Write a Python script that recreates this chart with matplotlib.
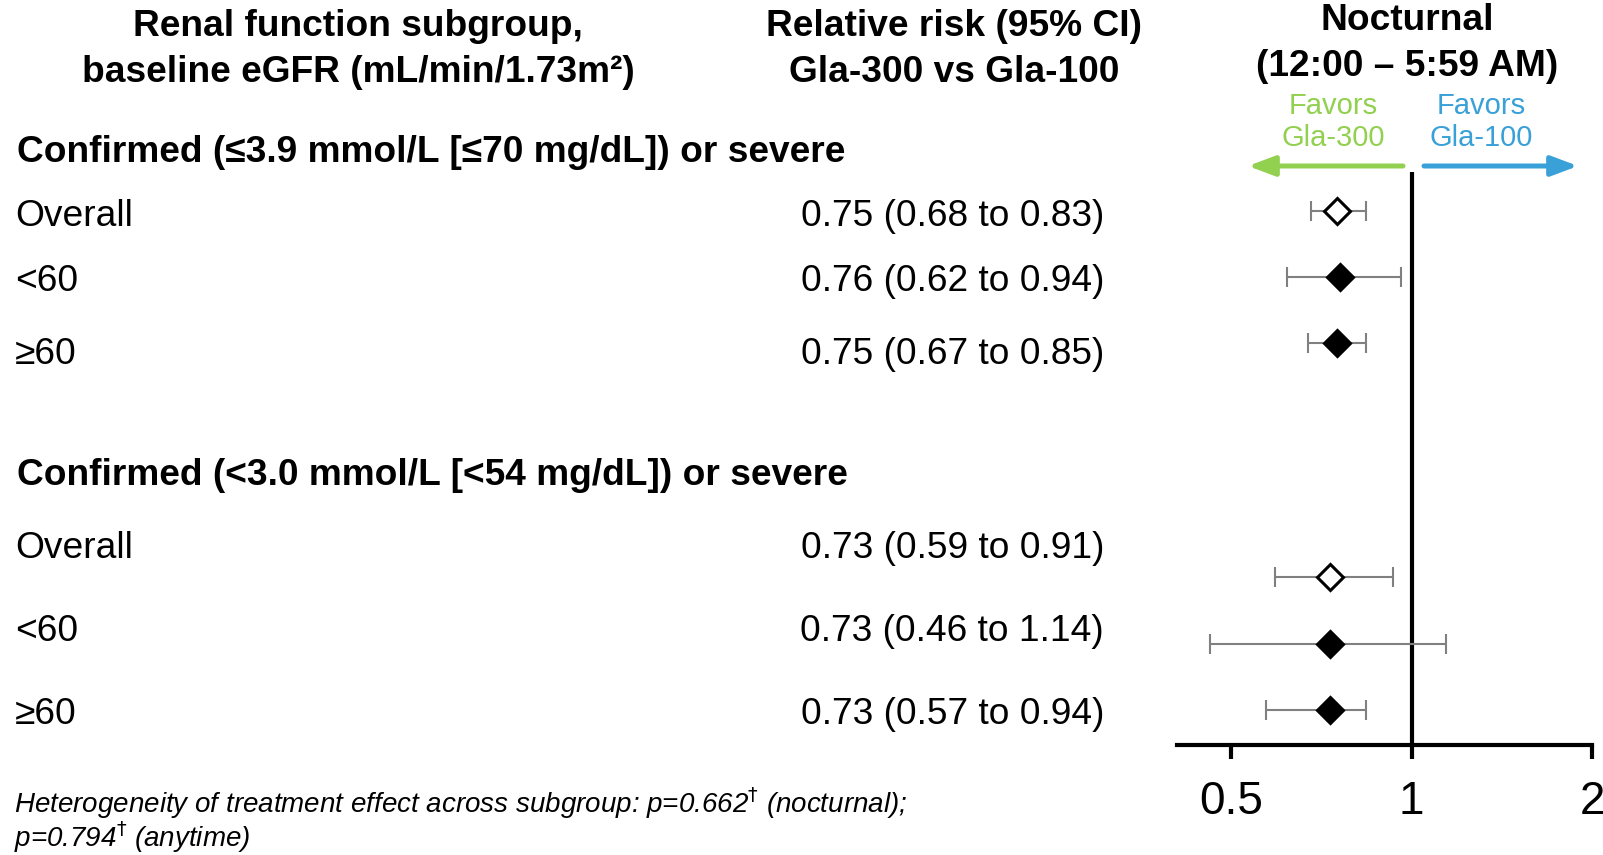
import matplotlib
matplotlib.use("Agg")
import matplotlib.pyplot as plt
from matplotlib.patches import FancyArrowPatch
from matplotlib.ticker import NullLocator

plt.rcParams['font.family'] = ['Liberation Sans', 'DejaVu Sans']

# data
groups = ["Confirmed (≤3.9 mmol/L [≤70 mg/dL]) or severe",
          "Confirmed (<3.0 mmol/L [<54 mg/dL]) or severe"]
subgroups = ["Overall", "<60", "≥60"]
rr_labels = [["0.75 (0.68 to 0.83)", "0.76 (0.62 to 0.94)", "0.75 (0.67 to 0.85)"],
             ["0.73 (0.59 to 0.91)", "0.73 (0.46 to 1.14)", "0.73 (0.57 to 0.94)"]]
# points as drawn in the forest panel
est = [[0.75, 0.76, 0.75], [0.73, 0.73, 0.73]]
ci_lo = [[0.68, 0.62, 0.67], [0.59, 0.46, 0.57]]
ci_hi = [[0.84, 0.96, 0.84], [0.93, 1.14, 0.84]]
xticks = [0.5, 1, 2]
xticklabels = ["0.5", "1", "2"]

# layout, in pixels from the top-left corner
W, H = 1603, 855
head_rows = [153, 475]
text_rows = [[217, 281, 354], [548, 631, 714]]
mark_rows = [[211, 277, 343], [577, 644, 710]]

green = "#92D050"
blue = "#39A0D8"
FS = 26.7


def fx(x):
    return x / W


def fy(y):
    return 1 - y / H


fig = plt.figure(figsize=(W / 100, H / 100), dpi=100)

# forest panel
ax = fig.add_axes([fx(1176.7), fy(745), (1592 - 1176.7) / W, (745 - 172) / H])
ax.set_xscale("log")
ax.set_xlim(0.405, 2.0)
ax.set_ylim(745, 172)
for s in ["top", "left", "right"]:
    ax.spines[s].set_visible(False)
ax.spines["bottom"].set_linewidth(3)
ax.set_xticks(xticks)
ax.set_xticklabels(xticklabels)
ax.xaxis.set_minor_locator(NullLocator())
ax.tick_params(axis="x", length=10, width=3, labelsize=33, pad=15)
ax.set_yticks([])
ax.axvline(1, color="black", lw=3, zorder=1)

for g in range(2):
    for i in range(3):
        e, lo, hi, y = est[g][i], ci_lo[g][i], ci_hi[g][i], mark_rows[g][i]
        ax.errorbar(e, y, xerr=[[e - lo], [hi - e]], fmt="none", ecolor="#808080",
                    elinewidth=1.5, capsize=7, capthick=1.5, zorder=2)
        ax.plot(e, y, marker="D", ms=13, mfc="white" if i == 0 else "black",
                mec="black", mew=2.2, zorder=3)

# column headers
fig.text(fx(358), fy(26), "Renal function subgroup,", ha="center", va="center",
         fontsize=FS, fontweight="bold")
fig.text(fx(358), fy(72), "baseline eGFR (mL/min/1.73m²)", ha="center", va="center",
         fontsize=FS, fontweight="bold")
fig.text(fx(954), fy(26), "Relative risk (95% CI)", ha="center", va="center",
         fontsize=FS, fontweight="bold")
fig.text(fx(954), fy(72), "Gla-300 vs Gla-100", ha="center", va="center",
         fontsize=FS, fontweight="bold")
fig.text(fx(1407), fy(21), "Nocturnal", ha="center", va="center",
         fontsize=FS, fontweight="bold")
fig.text(fx(1407), fy(67), "(12:00 – 5:59 AM)", ha="center", va="center",
         fontsize=FS, fontweight="bold")

# favors labels and arrows
fig.text(fx(1333), fy(122), "Favors\nGla-300", ha="center", va="center",
         fontsize=21, color=green, linespacing=1.2)
fig.text(fx(1481), fy(122), "Favors\nGla-100", ha="center", va="center",
         fontsize=21, color=blue, linespacing=1.2)
for x0, x1, c in [(1403, 1248, green), (1424, 1578, blue)]:
    fig.add_artist(FancyArrowPatch((fx(x0), fy(166)), (fx(x1), fy(166)),
                                   transform=fig.transFigure,
                                   arrowstyle="-|>,head_length=16,head_width=6",
                                   mutation_scale=1, lw=3.6, color=c,
                                   shrinkA=0, shrinkB=0))

# table rows
for g in range(2):
    fig.text(fx(17), fy(head_rows[g]), groups[g], ha="left", va="center",
             fontsize=FS, fontweight="bold")
    for i in range(3):
        fig.text(fx(15), fy(text_rows[g][i]), subgroups[i], ha="left", va="center",
                 fontsize=FS)
        fig.text(fx(1104), fy(text_rows[g][i]), rr_labels[g][i], ha="right",
                 va="center", fontsize=FS)

# footnote
fig.text(fx(14), fy(803), r"Heterogeneity of treatment effect across subgroup: "
         r"p=0.662$^{\dagger}$ (nocturnal);", ha="left", va="center",
         fontsize=20, style="italic")
fig.text(fx(14), fy(837), r"p=0.794$^{\dagger}$ (anytime)", ha="left", va="center",
         fontsize=20, style="italic")

fig.savefig("out.png", dpi=100)
